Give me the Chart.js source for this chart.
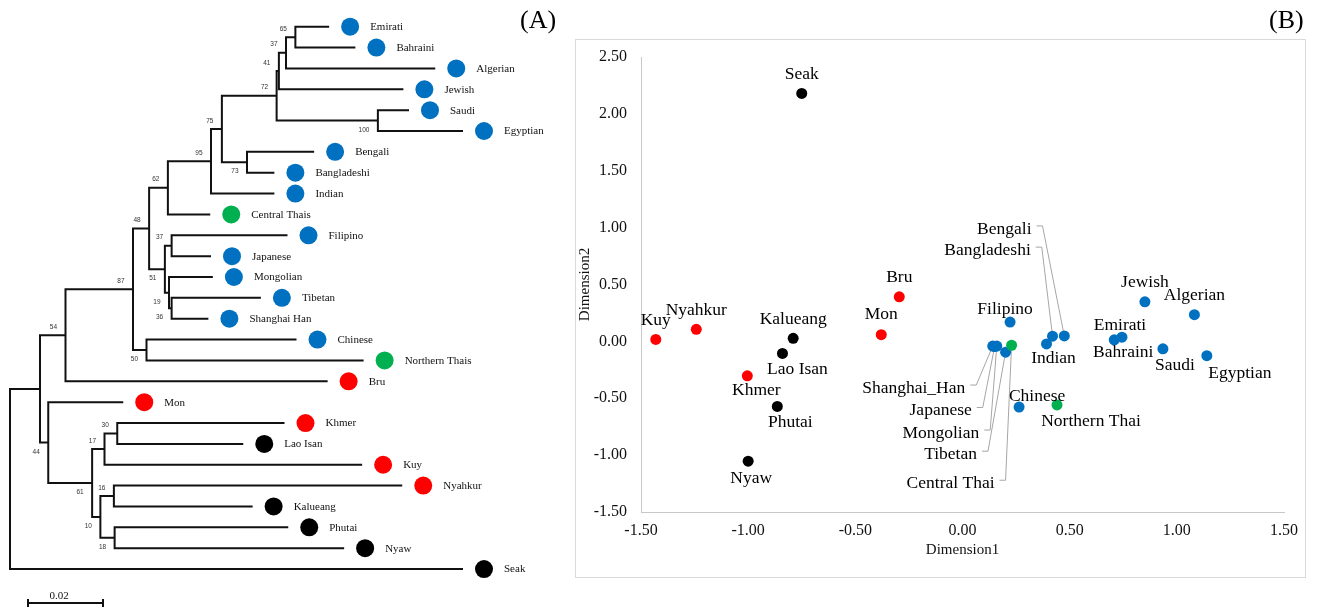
<!DOCTYPE html>
<html><head><meta charset="utf-8">
<script src="https://cdn.jsdelivr.net/npm/chart.js@4.4.1/dist/chart.umd.min.js"></script>
<style>
html,body{margin:0;padding:0;background:#fff;}
#wrap{position:relative;width:1318px;height:607px;overflow:hidden;font-family:'Liberation Serif','Times New Roman',serif;}
canvas{position:absolute;top:0;}
.panel{position:absolute;font-size:26px;line-height:1;color:#000;}
</style></head><body>
<div id="wrap">
<canvas id="tree" width="570" height="607" style="left:0"></canvas>
<canvas id="mds" width="748" height="607" style="left:570px"></canvas>
<div class="panel" style="left:520px;top:7px">(A)</div>
<div class="panel" style="left:1269px;top:7px">(B)</div>
</div>
<script>
// ---------- (A) Tree data ----------
const leafNames = ['Emirati','Bahraini','Algerian','Jewish','Saudi','Egyptian','Bengali','Bangladeshi','Indian','Central Thais','Filipino','Japanese','Mongolian','Tibetan','Shanghai Han','Chinese','Northern Thais','Bru','Mon','Khmer','Lao Isan','Kuy','Nyahkur','Kalueang','Phutai','Nyaw','Seak'];
const leafDepth = [0.0851,0.0921,0.1134,0.1049,0.1064,0.1208,0.0811,0.0705,0.0705,0.0534,0.0740,0.0536,0.0541,0.0669,0.0529,0.0764,0.0943,0.0847,0.0302,0.0732,0.0622,0.0939,0.1046,0.0647,0.0742,0.0891,0.1208];
const leafGroup = ['blue','blue','blue','blue','blue','blue','blue','blue','blue','green','blue','blue','blue','blue','blue','blue','green','red','red','red','black','red','red','black','black','black','black'];

const nodeIds     = ['root','n40','n54','n87','n48','n62','n95','n75','n72','n41','n37a','n65','n100','n73','n51','n37b','n19','n36','n50','n44','n61','n17','n30','n10','n16','n18'];
const nodeDepth   = [0,0.0080,0.0148,0.0328,0.0371,0.0421,0.0536,0.0565,0.0711,0.0717,0.0736,0.0761,0.0981,0.0632,0.0413,0.0431,0.0424,0.0431,0.0364,0.0102,0.0219,0.0252,0.0286,0.0241,0.0277,0.0279];
const nodeKids    = [['n40','Seak'],['n54','n44'],['n87','Bru'],['n48','n50'],['n62','n51'],['n95','Central Thais'],['n75','Indian'],['n72','n73'],['n41','n100'],['n37a','Jewish'],['n65','Algerian'],['Emirati','Bahraini'],['Saudi','Egyptian'],['Bengali','Bangladeshi'],['n37b','n19'],['Filipino','Japanese'],['Mongolian','n36'],['Tibetan','Shanghai Han'],['Chinese','Northern Thais'],['Mon','n61'],['n17','n10'],['n30','Kuy'],['Khmer','Lao Isan'],['n16','n18'],['Nyahkur','Kalueang'],['Phutai','Nyaw']];
const nodeSupport = [null,null,54,87,48,62,95,75,72,41,37,65,100,73,51,37,19,36,50,44,61,17,30,10,16,18];
const scaleBarLength = 0.02;
const scaleBarLabel = '0.02';

// ---------- (B) MDS data ----------
const mdsNames = ['Seak','Kuy','Nyahkur','Kalueang','Lao Isan','Khmer','Phutai','Nyaw','Bru','Mon','Filipino','Shanghai_Han','Japanese','Mongolian','Tibetan','Central Thai','Bangladeshi','Bengali','Indian','Chinese','Northern Thai','Bahraini','Emirati','Jewish','Algerian','Saudi','Egyptian'];
const mdsDim1  = [-0.75,-1.431,-1.242,-0.79,-0.84,-1.004,-0.864,-1.0,-0.295,-0.379,0.222,0.141,0.150,0.160,0.201,0.229,0.420,0.475,0.392,0.264,0.441,0.708,0.744,0.851,1.082,0.935,1.14];
const mdsDim2  = [2.18,0.017,0.106,0.027,-0.106,-0.303,-0.572,-1.053,0.392,0.059,0.17,-0.041,-0.045,-0.041,-0.095,-0.034,0.046,0.048,-0.022,-0.578,-0.559,0.014,0.037,0.348,0.235,-0.065,-0.126];
const mdsGroup = ['black','red','red','black','black','red','black','black','red','red','blue','blue','blue','blue','blue','green','blue','blue','blue','blue','green','blue','blue','blue','blue','blue','blue'];
const dim1Ticks = [-1.5,-1.0,-0.5,0,0.5,1.0,1.5];
const dim2Ticks = [-1.5,-1.0,-0.5,0,0.5,1.0,1.5,2.0,2.5];

// ---------- styling / layout ----------
const groupColor = {blue:'#0070C0', green:'#00B050', red:'#FF0000', black:'#000000'};
const SERIF = "'Liberation Serif','Times New Roman',serif";
const SANS = "'Liberation Sans',Arial,sans-serif";
const treeLayout = {
  xMin:-0.002667, xMax:0.149333, yMin:-1.28, yMax:27.82,
  dotGap:0.0056, dotRadius:9, textGap:20,
  supportBelow:new Set(['n100','n73','n51','n19','n36','n50','n44','n61','n10','n18']),
  barStart:0.0048, barY:27.63, barTickTop:27.44, barTickBottom:27.82, barLabelX:0.01307, barLabelY:27.30
};
// label offsets (px) relative to the point; leader = callout with a leader line
const mdsLabelPos = {
  'Seak':[0,-19],'Kuy':[0,-19],'Nyahkur':[0,-19],'Kalueang':[0,-19],'Lao Isan':[15,16],'Khmer':[9,15],
  'Phutai':[13,16],'Nyaw':[3,17],'Bru':[0,-19],'Mon':[0,-20],'Filipino':[-5,-13],'Jewish':[0,-19],
  'Algerian':[0,-19],'Emirati':[-2,-12],'Bahraini':[9,13],'Saudi':[12,17],'Egyptian':[33,18],
  'Indian':[7,15],'Chinese':[18,-11],'Northern Thai':[34,16]
};
const mdsLeaderPos = {
  'Bengali':[-60,-107],'Bangladeshi':[-65,-86],'Shanghai_Han':[-79,42],'Japanese':[-54,64],
  'Mongolian':[-56,87],'Tibetan':[-55,102],'Central Thai':[-61,138]
};

// ---------- build tree ----------
const leafIndex = Object.fromEntries(leafNames.map((n,i)=>[n,i]));
const nodeIndex = Object.fromEntries(nodeIds.map((n,i)=>[n,i]));
function posOf(id){
  if (id in leafIndex){ const i = leafIndex[id]; return {x:leafDepth[i], y:i}; }
  const k = nodeIndex[id];
  const a = posOf(nodeKids[k][0]), b = posOf(nodeKids[k][1]);
  return {x:nodeDepth[k], y:(a.y+b.y)/2};
}
const lineStyle = {type:'scatter', showLine:true, borderColor:'#111', borderWidth:2, pointRadius:0, borderJoinStyle:'miter', borderCapStyle:'butt', fill:false};
const treeDatasets = nodeIds.map((id,k)=>{
  const a = posOf(nodeKids[k][0]), b = posOf(nodeKids[k][1]), d = nodeDepth[k];
  return Object.assign({data:[{x:a.x,y:a.y},{x:d,y:a.y},{x:d,y:b.y},{x:b.x,y:b.y}]}, lineStyle);
});
const L = treeLayout;
treeDatasets.push(Object.assign({}, lineStyle, {borderWidth:2, data:[
  {x:L.barStart,y:L.barTickTop},{x:L.barStart,y:L.barTickBottom},{x:L.barStart,y:L.barY},
  {x:L.barStart+scaleBarLength,y:L.barY},{x:L.barStart+scaleBarLength,y:L.barTickTop},{x:L.barStart+scaleBarLength,y:L.barTickBottom}]}));
treeDatasets.unshift({type:'scatter', data:leafNames.map((n,i)=>({x:leafDepth[i]+L.dotGap, y:i})),
  pointRadius:L.dotRadius, pointBackgroundColor:leafGroup.map(g=>groupColor[g]), pointBorderWidth:0, showLine:false});

const treeText = {
  id:'treeText',
  afterDatasetsDraw(chart){
    const {ctx, scales:{x,y}} = chart;
    ctx.save();
    ctx.fillStyle = '#111'; ctx.textBaseline = 'middle'; ctx.textAlign = 'left';
    ctx.font = '11px ' + SERIF;
    leafNames.forEach((n,i)=>{
      ctx.fillText(n, x.getPixelForValue(leafDepth[i]+L.dotGap)+L.textGap, y.getPixelForValue(i)+0.5);
    });
    ctx.font = '6.5px ' + SANS; ctx.textAlign = 'right'; ctx.fillStyle = '#333';
    nodeIds.forEach((id,k)=>{
      if (nodeSupport[k]==null) return;
      const p = posOf(id);
      const dy = L.supportBelow.has(id) ? 9.3 : -8.3;
      ctx.fillText(String(nodeSupport[k]), x.getPixelForValue(p.x)-8.5, y.getPixelForValue(p.y)+dy);
    });
    ctx.font = '11px ' + SERIF; ctx.textAlign = 'center'; ctx.fillStyle = '#111';
    ctx.fillText(scaleBarLabel, x.getPixelForValue(L.barLabelX), y.getPixelForValue(L.barLabelY));
    ctx.restore();
  }
};

new Chart(document.getElementById('tree'), {
  type:'scatter',
  data:{datasets:treeDatasets},
  options:{
    responsive:false, animation:false, devicePixelRatio:1,
    layout:{padding:0, autoPadding:false},
    plugins:{legend:{display:false}, tooltip:{enabled:false}},
    scales:{
      x:{type:'linear', display:false, min:L.xMin, max:L.xMax},
      y:{type:'linear', display:false, min:L.yMin, max:L.yMax, reverse:true}
    }
  },
  plugins:[treeText]
});

// ---------- build MDS ----------
const groupOrder = ['green','blue','red','black'];
const mdsDatasets = groupOrder.map(g=>({
  label:g,
  data:mdsNames.map((n,i)=>({x:mdsDim1[i], y:mdsDim2[i], g:mdsGroup[i]})).filter(p=>p.g===g),
  pointRadius:5.5, pointHoverRadius:5.5, pointBackgroundColor:groupColor[g], pointBorderWidth:0
}));

const LABEL_FONT = '17.5px ' + SERIF;
const mdsText = {
  id:'mdsText',
  beforeDraw(chart){
    const ctx = chart.ctx;
    ctx.save(); ctx.strokeStyle = '#d9d9d9'; ctx.lineWidth = 1;
    ctx.strokeRect(5.5, 39.5, 730, 538); ctx.restore();
  },
  beforeDatasetsDraw(chart){
    const {ctx, scales:{x,y}} = chart;
    ctx.save(); ctx.font = LABEL_FONT; ctx.strokeStyle = '#a6a6a6'; ctx.lineWidth = 1;
    mdsNames.forEach((n,i)=>{
      const off = mdsLeaderPos[n]; if (!off) return;
      const px = x.getPixelForValue(mdsDim1[i]), py = y.getPixelForValue(mdsDim2[i]);
      const w = ctx.measureText(n).width;
      const sx = px+off[0]+w/2+5, sy = py+off[1]-3;
      ctx.beginPath(); ctx.moveTo(sx, sy); ctx.lineTo(sx+6, sy); ctx.lineTo(px, py); ctx.stroke();
    });
    ctx.restore();
  },
  afterDatasetsDraw(chart){
    const {ctx, scales:{x,y}} = chart;
    ctx.save(); ctx.font = LABEL_FONT; ctx.fillStyle = '#000';
    ctx.textAlign = 'center'; ctx.textBaseline = 'middle';
    mdsNames.forEach((n,i)=>{
      const off = mdsLabelPos[n] || mdsLeaderPos[n];
      const px = x.getPixelForValue(mdsDim1[i]), py = y.getPixelForValue(mdsDim2[i]);
      ctx.fillText(n, px+off[0], py+off[1]);
    });
    ctx.restore();
  }
};

const tickFont = {family:SERIF, size:16};
new Chart(document.getElementById('mds'), {
  type:'scatter',
  data:{datasets:mdsDatasets},
  options:{
    responsive:false, animation:false, devicePixelRatio:1,
    layout:{padding:{left:0, right:34, top:57, bottom:0}, autoPadding:false},
    plugins:{legend:{display:false}, tooltip:{enabled:false}},
    scales:{
      x:{type:'linear', min:-1.5, max:1.5,
        afterBuildTicks:s=>{ s.ticks = dim1Ticks.map(v=>({value:v})); },
        ticks:{callback:v=>Number(v).toFixed(2), font:tickFont, color:'#111', padding:9, maxRotation:0, autoSkip:false},
        grid:{display:false, drawTicks:false},
        border:{display:true, color:'#c8c8c8', width:1},
        title:{display:true, text:'Dimension1', font:{family:SERIF, size:15}, color:'#111', padding:{top:0, bottom:48}},
        afterFit:s=>{ s.height = 95; }
      },
      y:{type:'linear', min:-1.5, max:2.5,
        afterBuildTicks:s=>{ s.ticks = dim2Ticks.map(v=>({value:v})); },
        ticks:{callback:v=>Number(v).toFixed(2), font:tickFont, color:'#111', padding:14, autoSkip:false},
        grid:{display:false, drawTicks:false},
        border:{display:true, color:'#c8c8c8', width:1},
        title:{display:true, text:'Dimension2', font:{family:SERIF, size:15}, color:'#111', padding:{top:6, bottom:0}},
        afterFit:s=>{ s.width = 71; }
      }
    }
  },
  plugins:[mdsText]
});
</script>
</body></html>
